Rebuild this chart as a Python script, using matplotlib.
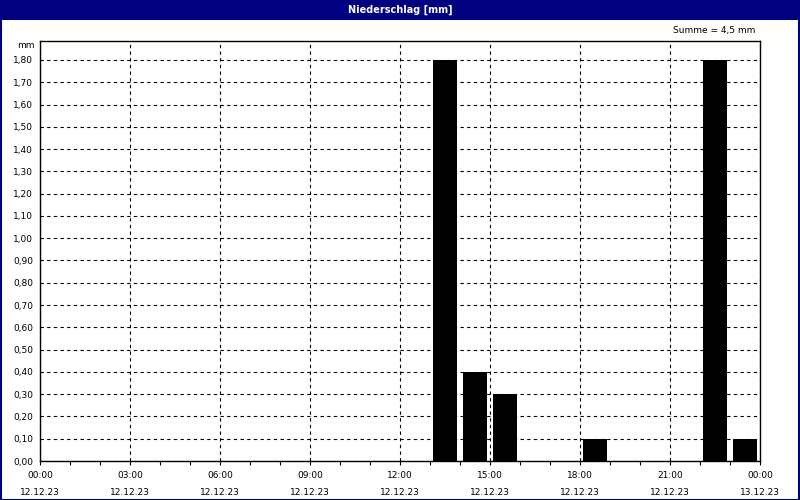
import matplotlib
matplotlib.use("Agg")
import matplotlib.pyplot as plt
from matplotlib.patches import Rectangle

# hourly precipitation, bar centred in its hour
hours = [13.5, 14.5, 15.5, 18.5, 22.5, 23.5]
rain_mm = [1.8, 0.4, 0.3, 0.1, 1.8, 0.1]
tick_hours = [0, 3, 6, 9, 12, 15, 18, 21, 24]
tick_labels = ["00:00\n12.12.23", "03:00\n12.12.23", "06:00\n12.12.23",
               "09:00\n12.12.23", "12:00\n12.12.23", "15:00\n12.12.23",
               "18:00\n12.12.23", "21:00\n12.12.23", "00:00\n13.12.23"]
y_ticks = [i / 10 for i in range(19)]

W, H = 800, 500
NAVY = "#000080"

fig = plt.figure(figsize=(W / 100, H / 100), dpi=100)
fig.patch.set_facecolor("white")

# title bar + outer frame
fig.add_artist(Rectangle((0, 1 - 20 / H), 1, 20 / H, transform=fig.transFigure,
                         facecolor=NAVY, edgecolor="none"))
fig.add_artist(Rectangle((0.5 / W, 0.5 / H), 1 - 1.5 / W, 1 - 1.5 / H,
                         transform=fig.transFigure, facecolor="none",
                         edgecolor=NAVY, lw=1.5))
fig.text(0.5, 1 - 10 / H, "Niederschlag [mm]", color="white", fontsize=7,
         fontweight="bold", ha="center", va="center")

ax = fig.add_axes([40 / W, 1 - 461 / H, 720 / W, 420 / H])
ax.bar(hours, rain_mm, width=0.8, color="black", zorder=3)

ax.set_xlim(0, 24)
ax.set_ylim(0, 1.885)
ax.set_yticks(y_ticks)
ax.set_yticklabels([f"{v:.2f}".replace(".", ",") for v in y_ticks])
ax.set_xticks(tick_hours)
ax.set_xticklabels(tick_labels, linespacing=2.2)
ax.set_xticks(range(25), minor=True)

ax.tick_params(axis="both", which="major", labelsize=6.5, length=3, width=0.8,
               color="black", pad=4)
ax.tick_params(axis="x", which="minor", length=3, width=0.8)
ax.tick_params(axis="y", length=0, pad=5)

ax.grid(True, which="major", color="black", lw=0.8, ls=(0, (3, 3)), zorder=1)
for s in ax.spines.values():
    s.set_linewidth(1.0)
    s.set_color("black")

fig.text(35 / W, 1 - 45 / H, "mm", ha="right", va="center", fontsize=6.5)
total = sum(rain_mm)
fig.text(755 / W, 1 - 31 / H, f"Summe = {total:.1f} mm".replace(".", ","),
         ha="right", va="center", fontsize=6.5)

fig.savefig("out.png", dpi=100)
